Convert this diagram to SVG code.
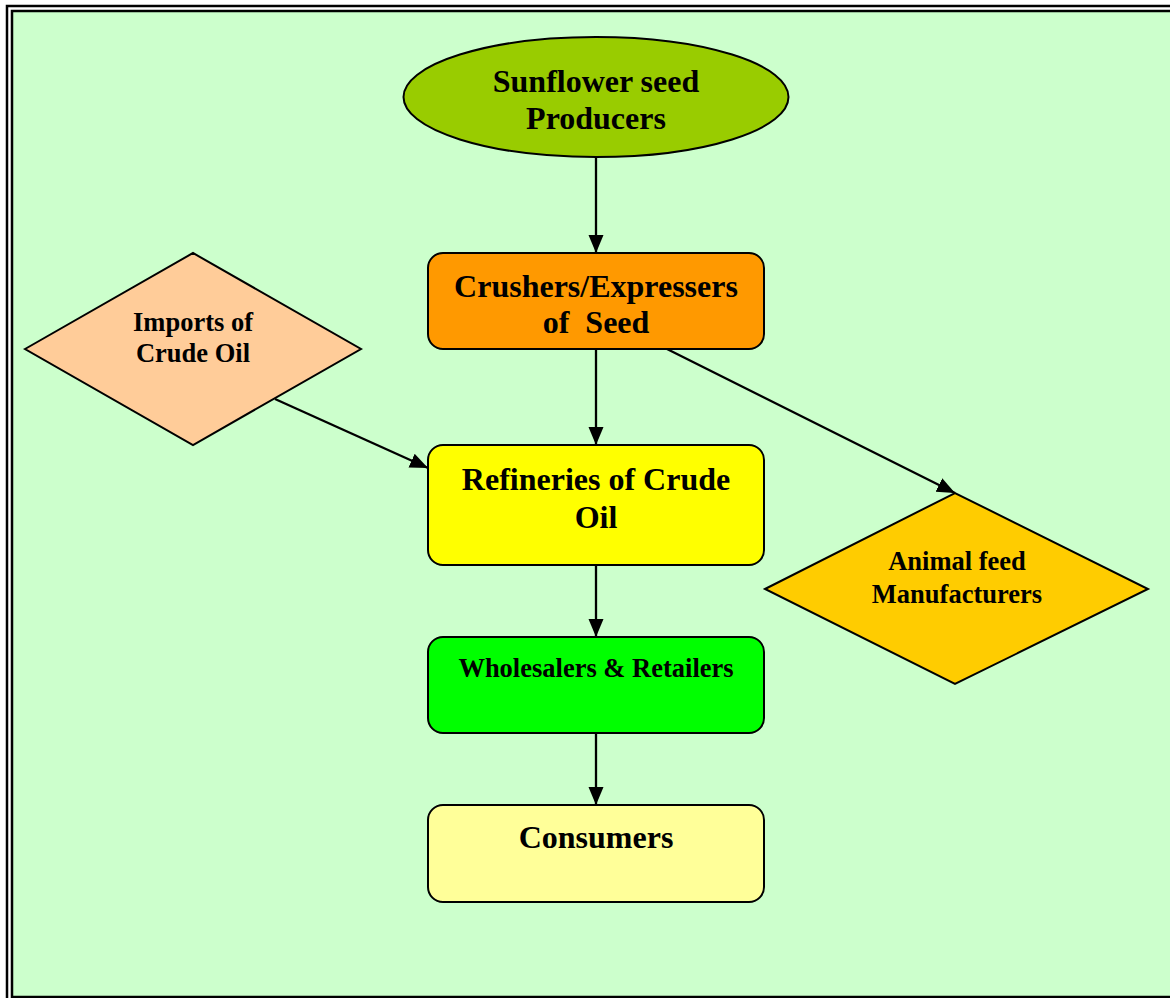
<svg xmlns="http://www.w3.org/2000/svg" width="1170" height="998" viewBox="0 0 1170 998">
  <defs>
    <marker id="arrow" viewBox="0 0 18 18" refX="18" refY="9" markerWidth="18" markerHeight="18" markerUnits="userSpaceOnUse" orient="auto">
      <path d="M0,1.5 L18,9 L0,16.5 Z" fill="#000"/>
    </marker>
  </defs>
  <style>
    .shape { stroke: #000; stroke-width: 2; }
    .lbl { font-family: "Liberation Serif", "Times New Roman", serif; font-weight: bold; fill: #000; text-anchor: middle; }
    .big { font-size: 32px; }
    .mid { font-size: 26.5px; }
    .conn { stroke: #000; stroke-width: 2.3; fill: none; marker-end: url(#arrow); }
  </style>
  <rect x="0" y="0" width="1170" height="998" fill="#ffffff"/>
  <g id="frame">
    <rect x="7" y="6" width="1180" height="1010" fill="none" stroke="#000" stroke-width="2.5"/>
    <rect x="12" y="11" width="1170" height="986" fill="#CCFFCC" stroke="#000" stroke-width="2.5"/>
  </g>

  <g id="connectors">
    <line class="conn" x1="596" y1="157" x2="596" y2="253"/>
    <line class="conn" x1="596" y1="349" x2="596" y2="445"/>
    <line class="conn" x1="596" y1="565" x2="596" y2="637"/>
    <line class="conn" x1="596" y1="733" x2="596" y2="805"/>
    <line class="conn" x1="275" y1="399" x2="428" y2="468"/>
    <line class="conn" x1="667" y1="349" x2="955" y2="493"/>
  </g>

  <g id="producers">
    <ellipse class="shape" cx="596" cy="97" rx="192.5" ry="60" fill="#99CC00"/>
    <text class="lbl big" x="596" y="92">Sunflower seed</text>
    <text class="lbl big" x="596" y="129">Producers</text>
  </g>

  <g id="crushers">
    <rect class="shape" x="428" y="253" width="336" height="96" rx="15" ry="15" fill="#FF9900"/>
    <text class="lbl big" x="596" y="297">Crushers/Expressers</text>
    <text class="lbl big" x="596" y="333" xml:space="preserve">of  Seed</text>
  </g>

  <g id="imports">
    <polygon class="shape" points="25,349 193,253 361,349 193,445" fill="#FFCC99"/>
    <text class="lbl mid" x="193" y="331">Imports of</text>
    <text class="lbl mid" x="193" y="362">Crude Oil</text>
  </g>

  <g id="refineries">
    <rect class="shape" x="428" y="445" width="336" height="120" rx="15" ry="15" fill="#FFFF00"/>
    <text class="lbl big" x="596" y="490">Refineries of Crude</text>
    <text class="lbl big" x="596" y="528">Oil</text>
  </g>

  <g id="animal-feed">
    <polygon class="shape" points="765,589 955,493 1148,589 955,684" fill="#FFCC00"/>
    <text class="lbl mid" x="957" y="570">Animal feed</text>
    <text class="lbl mid" x="957" y="603">Manufacturers</text>
  </g>

  <g id="wholesalers">
    <rect class="shape" x="428" y="637" width="336" height="96" rx="15" ry="15" fill="#00FF00"/>
    <text class="lbl mid" x="596" y="677">Wholesalers &amp; Retailers</text>
  </g>

  <g id="consumers">
    <rect class="shape" x="428" y="805" width="336" height="97" rx="15" ry="15" fill="#FFFF99"/>
    <text class="lbl big" x="596" y="848">Consumers</text>
  </g>
</svg>
